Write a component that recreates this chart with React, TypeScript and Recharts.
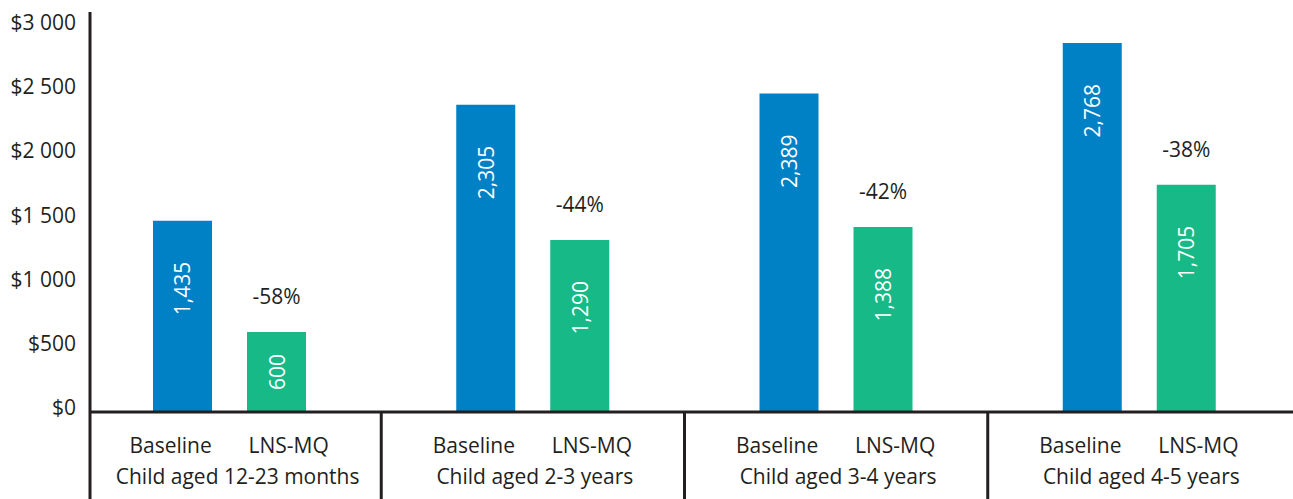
import { BarChart, Bar, XAxis, YAxis, LabelList } from "recharts"

const groups = [
  "Child aged 12-23 months",
  "Child aged 2-3 years",
  "Child aged 3-4 years",
  "Child aged 4-5 years",
]
const seriesNames = ["Baseline", "LNS-MQ"]
const baselineCost = [1435, 2305, 2389, 2768]
const lnsCost = [600, 1290, 1388, 1705]
const yTicks = [0, 500, 1000, 1500, 2000, 2500, 3000]

const data = groups.map((group, i) => ({
  group,
  baseline: baselineCost[i],
  lns: lnsCost[i],
  change: Math.round(((lnsCost[i] - baselineCost[i]) / baselineCost[i]) * 100),
}))

const W = 1293
const H = 499
const AXIS_W = 90
const X_AXIS_H = 87
const PAD = { left: -12, right: 2 }
const BAND = (W - AXIS_W - PAD.left - PAD.right) / groups.length

const INK = "#231f20"
const BLUE = "#0081c6"
const GREEN = "#17b987"
const FONT = 21

const money = (v: number) =>
  v >= 1000 ? `$${Math.floor(v / 1000)} ${String(v % 1000).padStart(3, "0")}` : `$${v}`

// sub-series names, group name and the box separators under each group
function GroupTick(props: any) {
  const { x, y, payload, index } = props
  const left = index === 0 ? AXIS_W : x - BAND / 2
  const right = Math.min(x + BAND / 2, W)
  const mid = (left + right) / 2 + 2
  return (
    <g>
      <line x1={left} x2={left} y1={y} y2={H} stroke={INK} strokeWidth={3} />
      <text x={x - 59} y={y + 41} textAnchor="middle" fill={INK} fontSize={FONT}>
        {seriesNames[0]}
      </text>
      <text x={x + 59} y={y + 41} textAnchor="middle" fill={INK} fontSize={FONT}>
        {seriesNames[1]}
      </text>
      <text x={mid} y={y + 72} textAnchor="middle" fill={INK} fontSize={FONT}>
        {payload.value}
      </text>
    </g>
  )
}

function InsideValue(props: any) {
  const { x, y, width, height, value } = props
  const cx = x + width / 2
  const tall = height > 110
  const ty = tall ? y + 41 : y + height / 2
  return (
    <text
      x={cx}
      y={ty}
      transform={`rotate(-90 ${cx} ${ty})`}
      textAnchor={tall ? "end" : "middle"}
      dominantBaseline="central"
      fill="#fff"
      fontSize={FONT}
    >
      {Number(value).toLocaleString("en-US")}
    </text>
  )
}

function ChangeLabel(props: any) {
  const { x, y, width, value } = props
  return (
    <text x={x + width / 2} y={y - 28} textAnchor="middle" fill={INK} fontSize={FONT}>
      {`${value}%`}
    </text>
  )
}

export default function App() {
  return (
    <div
      style={{
        position: "absolute",
        left: 0,
        top: 0,
        width: W,
        height: H,
        background: "#fff",
        fontFamily: "'Open Sans', sans-serif",
      }}
    >
      <BarChart
        width={W}
        height={H}
        data={data}
        margin={{ top: 12, right: 0, bottom: 0, left: 0 }}
        barSize={59}
        barGap={35}
      >
        <XAxis
          dataKey="group"
          height={X_AXIS_H}
          padding={PAD}
          axisLine={{ stroke: INK, strokeWidth: 3 }}
          tickLine={false}
          tickSize={0}
          tickMargin={0}
          interval={0}
          tick={<GroupTick />}
        />
        <YAxis yAxisId="v" hide domain={[0, 3000]} />
        <YAxis
          yAxisId="lbl"
          width={AXIS_W}
          type="number"
          domain={[-31, 3082]}
          allowDataOverflow
          ticks={yTicks}
          tickFormatter={money}
          axisLine={{ stroke: INK, strokeWidth: 3 }}
          tickLine={false}
          tickSize={0}
          tickMargin={14}
          tick={{ fill: INK, fontSize: FONT }}
        />
        <Bar yAxisId="v" dataKey="baseline" fill={BLUE} isAnimationActive={false}>
          <LabelList dataKey="baseline" content={<InsideValue />} />
        </Bar>
        <Bar yAxisId="v" dataKey="lns" fill={GREEN} isAnimationActive={false}>
          <LabelList dataKey="lns" content={<InsideValue />} />
          <LabelList dataKey="change" content={<ChangeLabel />} />
        </Bar>
      </BarChart>
    </div>
  )
}
